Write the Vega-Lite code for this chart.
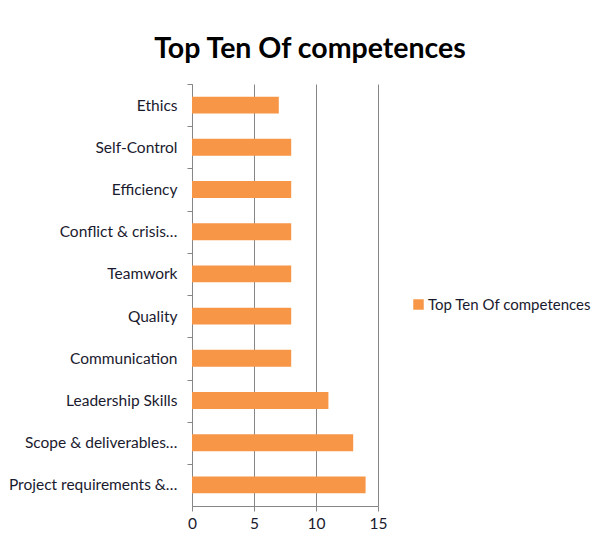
{
  "$schema": "https://vega.github.io/schema/vega-lite/v6.json",
  "autosize": {"type": "none"},
  "padding": {"left": 192, "top": 84, "right": 232, "bottom": 37},
  "width": 186,
  "height": 422,
  "background": "white",
  "title": {
    "text": "Top Ten Of competences",
    "font": "Lato",
    "fontSize": 28.5,
    "fontWeight": "bold",
    "color": "#000000",
    "anchor": "middle",
    "dx": 25,
    "offset": 20
  },
  "data": {
    "values": [
      {"competence": "Ethics", "value": 7, "series": "Top Ten Of competences"},
      {"competence": "Self-Control", "value": 8, "series": "Top Ten Of competences"},
      {"competence": "Efficiency", "value": 8, "series": "Top Ten Of competences"},
      {"competence": "Conflict & crisis…", "value": 8, "series": "Top Ten Of competences"},
      {"competence": "Teamwork", "value": 8, "series": "Top Ten Of competences"},
      {"competence": "Quality", "value": 8, "series": "Top Ten Of competences"},
      {"competence": "Communication", "value": 8, "series": "Top Ten Of competences"},
      {"competence": "Leadership Skills", "value": 11, "series": "Top Ten Of competences"},
      {"competence": "Scope & deliverables…", "value": 13, "series": "Top Ten Of competences"},
      {"competence": "Project requirements &…", "value": 14, "series": "Top Ten Of competences"}
    ]
  },
  "mark": {"type": "bar"},
  "encoding": {
    "y": {
      "field": "competence",
      "type": "nominal",
      "sort": null,
      "title": null,
      "scale": {"paddingInner": 0.6, "paddingOuter": 0.3},
      "axis": {
        "domainColor": "#868686",
        "tickColor": "#868686",
        "tickSize": 5,
        "tickOffset": -21,
        "labelOffset": 21,
        "labelFont": "Lato",
        "labelFontSize": 15.5,
        "labelColor": "#1a1a2e",
        "labelPadding": 10,
        "labelLimit": 220,
        "grid": false
      }
    },
    "x": {
      "field": "value",
      "type": "quantitative",
      "title": null,
      "scale": {"domain": [0, 15], "nice": false},
      "axis": {
        "values": [0, 5, 10, 15],
        "domainColor": "#868686",
        "tickColor": "#868686",
        "tickSize": 5,
        "grid": true,
        "gridColor": "#868686",
        "gridWidth": 1,
        "labelFont": "Lato",
        "labelFontSize": 15.5,
        "labelColor": "#1a1a2e",
        "labelPadding": 5,
        "labelFlush": false
      }
    },
    "color": {
      "field": "series",
      "type": "nominal",
      "title": null,
      "scale": {"range": ["#F79646"]},
      "legend": {
        "orient": "none",
        "legendX": 219,
        "legendY": 213,
        "symbolType": "square",
        "symbolSize": 110,
        "symbolStrokeWidth": 0,
        "labelFont": "Lato",
        "labelFontSize": 15,
        "labelColor": "#1a1a2e",
        "labelOffset": 2,
        "labelLimit": 300
      }
    }
  },
  "config": {
    "view": {"stroke": null},
    "axis": {"domainWidth": 1, "tickWidth": 1}
  }
}
